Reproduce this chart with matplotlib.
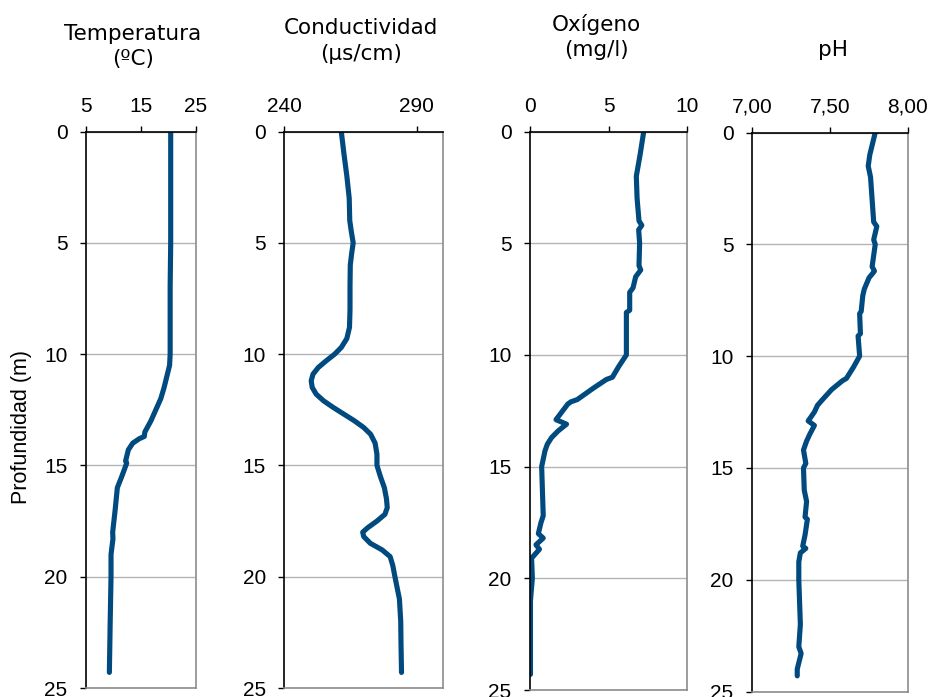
import matplotlib
matplotlib.use("Agg")
import matplotlib.pyplot as plt
from matplotlib.ticker import FixedLocator, FuncFormatter

# Depth profiles (m) and measured variables
temp_depth = [0, 2, 5, 7, 10, 10.5, 11, 11.5, 12, 12.5, 13, 13.5, 13.7, 13.8, 14,
              14.3, 14.8, 14.9, 15.3, 15.5, 16, 17, 18, 18.3, 19, 20, 22, 24.3]
temp_vals = [20.4, 20.4, 20.4, 20.3, 20.3, 20.2, 19.7, 19.2, 18.6, 17.7, 16.8, 15.7,
             15.6, 14.7, 13.5, 12.7, 12.2, 12.4, 11.8, 11.5, 10.7, 10.3, 9.85, 9.9,
             9.55, 9.55, 9.4, 9.25]

cond_depth = [0, 1, 2, 3, 4, 4.5, 5, 5.5, 6, 7, 8, 8.8, 9.3, 9.7, 10, 10.3, 10.6,
              10.9, 11.2, 11.5, 11.8, 12.1, 12.4, 12.7, 13.0, 13.3, 13.6, 14, 14.5,
              15, 15.5, 16, 16.5, 16.9, 17.2, 17.5, 17.8, 18.0, 18.2, 18.5, 18.8,
              19.1, 19.5, 20, 21, 22, 23, 24.3]
cond_vals = [261.5, 262.5, 263.6, 264.5, 264.7, 265.3, 266.0, 265.4, 264.9, 264.8,
             264.8, 264.6, 263.6, 261.5, 259.0, 255.8, 252.8, 250.8, 250.1, 250.5,
             252.0, 254.8, 258.5, 262.5, 266.5, 270.0, 272.6, 274.3, 275.0, 275.0,
             276.3, 277.8, 278.6, 278.9, 278.0, 275.0, 271.5, 269.6, 270.0, 272.5,
             277.0, 280.0, 281.0, 281.8, 283.5, 284.0, 284.1, 284.3]

oxy_depth = [0, 1, 2, 3, 4, 4.2, 4.4, 5, 6, 6.2, 6.5, 7, 7.2, 8, 8.1, 10, 10.5, 11,
             11.1, 11.5, 12, 12.1, 12.2, 12.9, 13.1, 13.4, 13.7, 14, 14.3, 15, 17.2,
             17.5, 18, 18.2, 18.5, 18.7, 19.1, 20, 20.4, 21, 24.3]
oxy_vals = [7.22, 7.0, 6.75, 6.8, 6.92, 7.1, 6.9, 6.96, 6.92, 7.03, 6.71, 6.54, 6.33,
            6.33, 6.12, 6.12, 5.65, 5.23, 4.85, 4.0, 3.0, 2.6, 2.4, 1.65, 2.32, 1.79,
            1.37, 1.1, 0.95, 0.74, 0.84, 0.7, 0.53, 0.84, 0.38, 0.6, 0.1, 0.15, 0.1,
            0.03, 0.03]

ph_depth = [0, 1, 1.5, 2, 3, 4, 4.2, 4.8, 5, 6, 6.2, 6.5, 7, 7.3, 8, 8.1, 9, 9.1,
            10, 10.5, 11, 11.1, 11.5, 12, 12.2, 12.5, 12.9, 13.1, 13.5, 13.8, 14.2,
            14.8, 15, 16, 16.5, 17.2, 17.3, 18, 18.5, 18.6, 18.8, 19.2, 20, 22, 23,
            23.3, 24, 24.3]
ph_vals = [7.79, 7.755, 7.745, 7.76, 7.77, 7.78, 7.80, 7.78, 7.79, 7.77, 7.785, 7.75,
           7.72, 7.71, 7.70, 7.69, 7.695, 7.68, 7.69, 7.65, 7.605, 7.58, 7.51, 7.445,
           7.42, 7.40, 7.36, 7.40, 7.37, 7.35, 7.33, 7.345, 7.33, 7.335, 7.35, 7.34,
           7.355, 7.34, 7.325, 7.345, 7.31, 7.30, 7.30, 7.31, 7.30, 7.315, 7.29, 7.29]

titles = ["Temperatura\n(ºC)", "Conductividad\n(µs/cm)", "Oxígeno\n(mg/l)", "pH"]
x_limits = [(5, 25), (240, 300), (0, 10), (7.0, 8.0)]
x_ticks = [[5, 15, 25], [240, 290], [0, 5, 10], [7.0, 7.5, 8.0]]
depth_ticks = [0, 5, 10, 15, 20, 25]
ylabel = "Profundidad (m)"

W, H = 929, 697
LINE = "#004a7f"
TICK_FONT = "Liberation Sans"
TITLE_FONT = "DejaVu Sans"

fig = plt.figure(figsize=(W / 100, H / 100), dpi=100)

# panel boxes in pixels: left, right, top, bottom
boxes = [(86, 196, 131.5, 688), (284.5, 443, 131.5, 688),
         (530, 687.5, 131.5, 690), (752, 908, 132.5, 691.5)]
title_centers = [(133, 46.5), (361, 41), (596, 37), (833, 50)]

series = [(temp_vals, temp_depth), (cond_vals, cond_depth),
          (oxy_vals, oxy_depth), (ph_vals, ph_depth)]

for i, (box, (xv, yv)) in enumerate(zip(boxes, series)):
    l, r, t, b = box
    ax = fig.add_axes([l / W, 1 - b / H, (r - l) / W, (b - t) / H])
    ax.plot(xv, yv, color=LINE, lw=3.7, solid_capstyle="round",
            solid_joinstyle="round", zorder=3)
    ax.set_xlim(*x_limits[i])
    ax.set_ylim(25, 0)
    ax.xaxis.set_major_locator(FixedLocator(x_ticks[i]))
    ax.yaxis.set_major_locator(FixedLocator(depth_ticks))
    if i == 3:
        ax.xaxis.set_major_formatter(FuncFormatter(lambda v, p: f"{v:.2f}".replace(".", ",")))
    else:
        ax.xaxis.set_major_formatter(FuncFormatter(lambda v, p: f"{v:g}"))
    ax.xaxis.tick_top()
    ax.tick_params(axis="x", which="both", direction="out", length=4.3, width=1,
                   color="black", pad=7, labelsize=15, top=True, bottom=False)
    ax.tick_params(axis="y", direction="out", length=4.3, width=1, color="black",
                   pad=9, labelsize=15, left=True, right=False)
    for lab in ax.get_xticklabels() + ax.get_yticklabels():
        lab.set_fontfamily(TICK_FONT)
    ax.grid(axis="y", color="#b4b4b4", lw=1.0, zorder=0)
    ax.grid(axis="x", visible=False)
    ax.spines["left"].set_color("black")
    ax.spines["top"].set_color("black")
    ax.spines["right"].set_color("#8c8c8c")
    ax.spines["bottom"].set_color("#8c8c8c")
    for s in ax.spines.values():
        s.set_linewidth(1.2)
        s.set_zorder(4)
    cx, cy = title_centers[i]
    fig.text(cx / W, 1 - cy / H, titles[i], ha="center", va="center",
             fontsize=15.5, family=TITLE_FONT, linespacing=1.35)

fig.text(22 / W, 1 - 427 / H, ylabel, rotation=90, ha="center", va="center",
         fontsize=15.5, family=TICK_FONT)

fig.savefig("out.png", dpi=100)
